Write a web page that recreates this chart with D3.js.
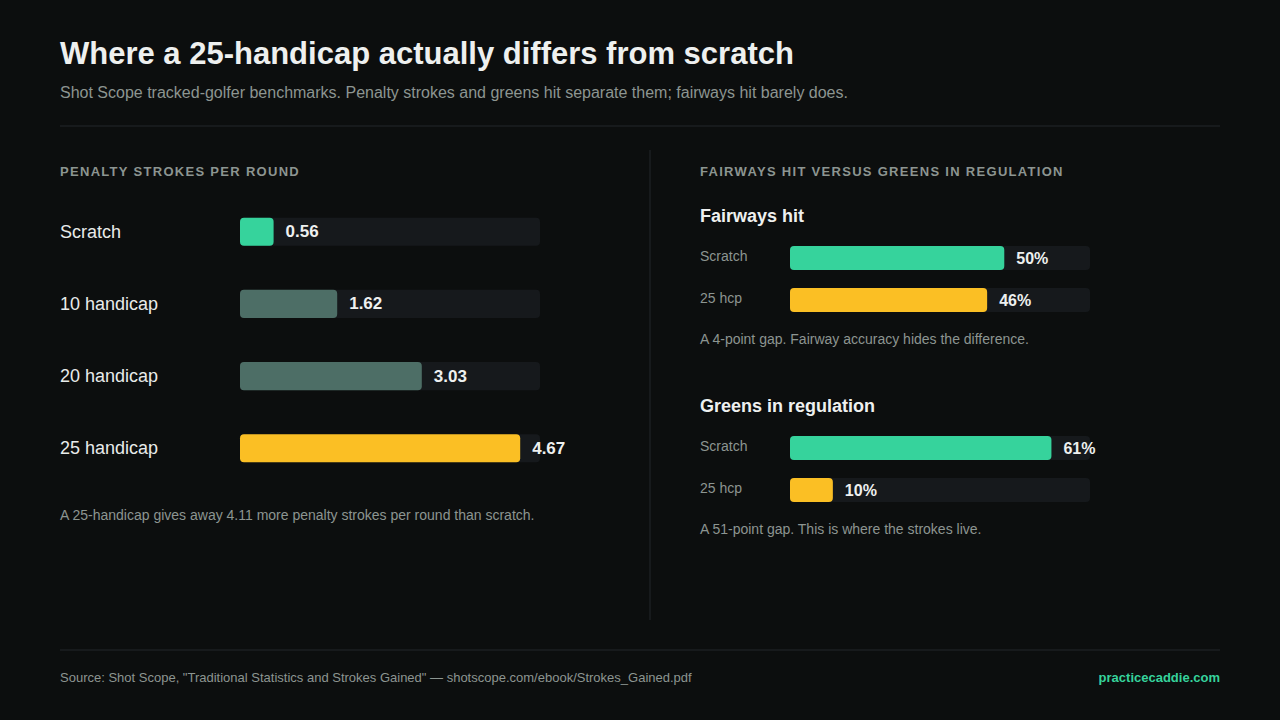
<!DOCTYPE html><html><head><meta charset="utf-8">
<script src="https://cdn.jsdelivr.net/npm/d3@7"></script>
<style>body{margin:0;background:#0c0e0e;font-family:"Liberation Sans",Arial,sans-serif}</style></head><body>
<svg id="c" width="1280" height="720"></svg>
<script>
const penaltyCats=["Scratch","10 handicap","20 handicap","25 handicap"];
const penaltyVals=[0.56,1.62,3.03,4.67];
const penaltyColors=["#36d39c","#4d6e66","#4d6e66","#fbbf24"];
const rightCats=["Scratch","25 hcp"];
const fairwayVals=[50,46];
const girVals=[61,10];
const rightColors=["#36d39c","#fbbf24"];

const svg=d3.select("#c");
svg.append("rect").attr("width",1280).attr("height",720).attr("fill","#0c0e0e");
const T=(x,y,s,o={})=>svg.append("text").attr("x",x).attr("y",y).text(s)
  .attr("fill",o.c||"#e8ebea").attr("font-size",o.s||15).attr("font-weight",o.w||400)
  .attr("letter-spacing",o.ls||0).attr("text-anchor",o.a||"start").attr("dominant-baseline","central");
T(60,53,"Where a 25-handicap actually differs from scratch",{s:31,w:700,c:"#eef0ef"});
T(60,92,"Shot Scope tracked-golfer benchmarks. Penalty strokes and greens hit separate them; fairways hit barely does.",{s:16,c:"#8c9591"});
svg.append("line").attr("x1",60).attr("x2",1220).attr("y1",126).attr("y2",126).attr("stroke","#23272a");
svg.append("line").attr("x1",60).attr("x2",1220).attr("y1",650).attr("y2",650).attr("stroke","#23272a");
svg.append("line").attr("x1",650).attr("x2",650).attr("y1",150).attr("y2",620).attr("stroke","#23272a");
T(60,171,"PENALTY STROKES PER ROUND",{s:13,w:700,c:"#8c9591",ls:1.3});
T(700,171,"FAIRWAYS HIT VERSUS GREENS IN REGULATION",{s:13,w:700,c:"#8c9591",ls:1.3});

const xl=d3.scaleLinear().domain([0,5]).range([0,300]);
const yl=d3.scaleBand().domain(penaltyCats).range([196,484]).paddingInner(0.61).paddingOuter(0.3);
penaltyCats.forEach((c,i)=>{
  const y=yl(c),h=yl.bandwidth();
  T(60,y+h/2,c,{s:18,c:"#e8ebea"});
  svg.append("rect").attr("x",240).attr("y",y).attr("width",xl(5)).attr("height",h).attr("rx",4).attr("fill","#16191c");
  svg.append("rect").attr("x",240).attr("y",y).attr("width",xl(penaltyVals[i])).attr("height",h).attr("rx",4).attr("fill",penaltyColors[i]);
  T(240+xl(penaltyVals[i])+12,y+h/2,penaltyVals[i].toFixed(2),{s:17,w:700,c:"#eef0ef"});
});
T(60,515,"A 25-handicap gives away 4.11 more penalty strokes per round than scratch.",{s:14,c:"#8c9591"});

const xr=d3.scaleLinear().domain([0,70]).range([0,300]);
function group(title,vals,top,note){
  T(700,top,title,{s:18,w:700,c:"#eef0ef"});
  const yr=d3.scaleBand().domain(rightCats).range([top+30,top+96]).paddingInner(18/42).paddingOuter(0);
  rightCats.forEach((c,i)=>{
    const y=yr(c),h=yr.bandwidth();
    T(700,y+h/2-2,c,{s:14,c:"#8c9591"});
    svg.append("rect").attr("x",790).attr("y",y).attr("width",300).attr("height",h).attr("rx",4).attr("fill","#16191c");
    svg.append("rect").attr("x",790).attr("y",y).attr("width",xr(vals[i])).attr("height",h).attr("rx",4).attr("fill",rightColors[i]);
    T(790+xr(vals[i])+12,y+h/2,vals[i]+"%",{s:16,w:700,c:"#eef0ef"});
  });
  T(700,top+123,note,{s:14,c:"#8c9591"});
}
group("Fairways hit",fairwayVals,216,"A 4-point gap. Fairway accuracy hides the difference.");
group("Greens in regulation",girVals,406,"A 51-point gap. This is where the strokes live.");

T(60,677,"Source: Shot Scope, \"Traditional Statistics and Strokes Gained\" — shotscope.com/ebook/Strokes_Gained.pdf",{s:13,c:"#8c9591"});
T(1220,677,"practicecaddie.com",{s:13,w:700,c:"#36d39c",a:"end"});
</script></body></html>
